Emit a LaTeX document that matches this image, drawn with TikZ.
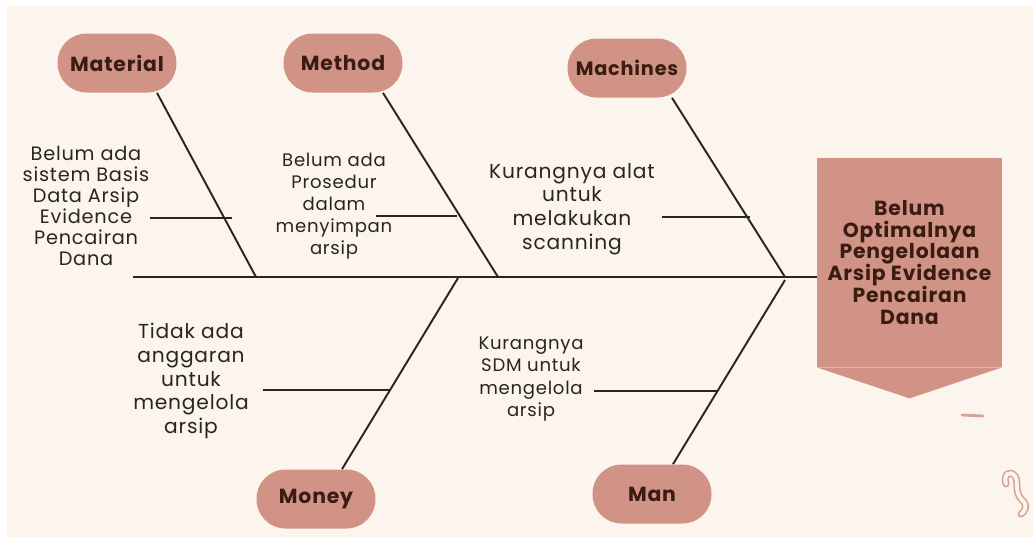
\documentclass[tikz,border=0pt]{standalone}
\usepackage{fontspec}
\setmainfont{Poppins}[LetterSpace=4]
\usetikzlibrary{calc}
\definecolor{cream}{HTML}{FCF5EE}
\definecolor{pinkish}{HTML}{D09385}
\definecolor{ink}{HTML}{2A2522}
\definecolor{brownink}{HTML}{3A1C12}
\begin{document}
\begin{tikzpicture}[x=0.02cm,y=-0.02cm,
  cat/.style={fill=pinkish,rounded corners=0.58cm,minimum width=2.38cm,minimum height=1.18cm,
    font=\fontsize{11.6}{13}\selectfont\bfseries,text=brownink,inner sep=0pt},
  cause/.style={align=center,text=ink,font=\fontsize{10.3}{12.6}\selectfont,inner sep=0pt},
  causeA/.style={align=center,text=ink,font=\fontsize{11}{11.9}\selectfont,inner sep=0pt},
  causebig/.style={align=center,text=ink,font=\fontsize{11.5}{13.4}\selectfont,inner sep=0pt},
  bone/.style={draw=ink,line width=1.1pt},
  subbone/.style={draw=ink,line width=0.9pt},
  deco/.style={draw=pinkish!85,line width=1.6pt,line cap=round}]
% background
\fill[white] (0,0) rectangle (1033,539);
\fill[cream] (7,6) rectangle (1033,537);
\useasboundingbox (0,0) rectangle (1033,539);
% head
\node[fill=pinkish,minimum width=3.7cm,minimum height=4.18cm,inner sep=0pt] (headbox) at (909.5,262.5) {};
\fill[pinkish] (headbox.south west) -- (headbox.south east) -- ($(headbox.south)+(0,31)$) -- cycle;
\node[align=center,text=brownink,font=\fontsize{11.6}{12.5}\selectfont\bfseries,inner sep=0pt] (head) at (909.5,262.5)
  {Belum\\Optimalnya\\Pengelolaan\\Arsip Evidence\\Pencairan\\Dana};
% category nodes
\node[cat] (mat) at (117,63) {Material};
\node[cat] (met) at (343,63) {Method};
\node[cat,font=\fontsize{11}{13}\selectfont\bfseries] (mac) at (627,68) {Machines};
\node[cat] (mon) at (316,499) {Money};
\node[cat] (man) at (652,494) {Man};
% spine
\coordinate (S) at (133,277);
\coordinate (J) at (785,277);
\draw[bone] (S) -- (S -| headbox.west);
% branches
\coordinate (bmat) at (256,277);
\coordinate (bmet) at (498,277);
\coordinate (bmon) at (458,278);
\coordinate (bman) at (785,280);
\draw[bone] ($(mat.south)+(40,0)$) -- (bmat);
\draw[bone] ($(met.south)+(40,0)$) -- (bmet);
\draw[bone] ($(mac.south)+(45,0)$) -- (J);
\draw[bone] ($(mon.north)+(26,0)$) -- (bmon);
\draw[bone] ($(man.north)+(21,0)$) -- (bman);
% sub bones
\coordinate (s1a) at (150,218); \coordinate (s1b) at (232,218);
\coordinate (s2a) at (376,216); \coordinate (s2b) at (457,216);
\coordinate (s3a) at (662,217); \coordinate (s3b) at (750,217);
\coordinate (s4a) at (263,390); \coordinate (s4b) at (390,390);
\coordinate (s5a) at (594,391); \coordinate (s5b) at (717,391);
\draw[subbone] (s1a) -- (s1b);
\draw[subbone] (s2a) -- (s2b);
\draw[subbone] (s3a) -- (s3b);
\draw[subbone] (s4a) -- (s4b);
\draw[subbone] (s5a) -- (s5b);
% cause texts
\node[causeA] (c1) at (86,206) {Belum ada\\sistem Basis\\Data Arsip\\Evidence\\Pencairan\\Dana};
\node[cause] (c2) at (334,206) {Belum ada\\Prosedur\\dalam\\menyimpan\\arsip};
\node[causebig] (c3) at (572,209) {Kurangnya alat\\untuk\\melakukan\\scanning};
\node[causebig] (c4) at (191,381) {Tidak ada\\anggaran\\untuk\\mengelola\\arsip};
\node[cause] (c5) at (531,379) {Kurangnya\\SDM untuk\\mengelola\\arsip};
% decorations
\draw[deco] (962,415) -- (983,416);
\draw[draw=pinkish!85,line width=0.9pt,double=cream,double distance=2.2pt,line cap=round]
  (1006,484) .. controls (1003,474) and (1010,470) .. (1015,476)
  .. controls (1019,482) and (1014,492) .. (1022,500)
  .. controls (1029,506) and (1024,512) .. (1021,514);
\end{tikzpicture}
\end{document}
